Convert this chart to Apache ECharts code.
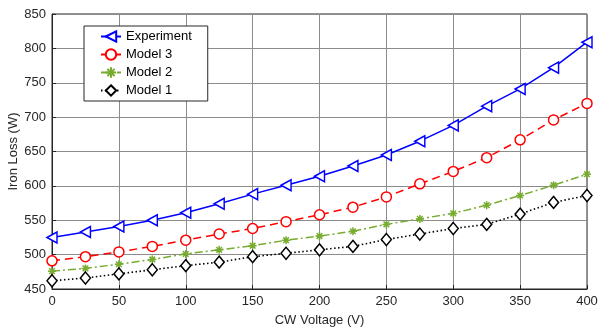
<!DOCTYPE html>
<html>
<head>
<meta charset="utf-8">
<script src="https://cdn.jsdelivr.net/npm/echarts@6/dist/echarts.min.js"></script>
<style>
  html, body { margin: 0; padding: 0; background: #fff; }
  #chart { width: 598px; height: 328px; }
</style>
</head>
<body>
<div id="chart"></div>
<script>
// CW voltage sweep (V)
const voltage = [0, 25, 50, 75, 100, 125, 150, 175, 200, 225, 250, 275, 300, 325, 350, 375, 400];

// Iron loss (W) for measurement and the three models
const experiment = [525, 533, 541, 550, 561, 574, 588, 601, 614, 629, 645, 665, 688, 716, 741, 772, 809];
const model3 = [491, 497, 504, 512, 521, 530, 538, 548, 558, 569, 584, 603, 621, 641, 667, 696, 720];
const model2 = [476, 480, 486, 493, 501, 507, 513, 521, 527, 534, 544, 552, 560, 572, 586, 601, 617];
const model1 = [462, 466, 472, 478, 484, 489, 497, 502, 507, 512, 522, 530, 538, 544, 559, 576, 586];

const xTicks = { min: 0, max: 400, step: 50 };
const yTicks = { min: 450, max: 850, step: 50 };

const FONT = '"Liberation Sans", Arial, sans-serif';
const TXT = '#262626';

const triLeft = 'path://M0,5 L10,0 L10,10 Z';
const asterisk = 'path://M0,5 L10,5 M5,0 L5,10 M1.5,1.5 L8.5,8.5 M1.5,8.5 L8.5,1.5';
const diamond = 'path://M5,0 L10,5 L5,10 L0,5 Z';

function pairs(ys) { return voltage.map((v, i) => [v, ys[i]]); }

function lineSeries(name, ys, color, lineType, symbol, size) {
  return {
    name: name,
    type: 'line',
    data: pairs(ys),
    symbol: symbol,
    symbolSize: size,
    showAllSymbol: true,
    lineStyle: { color: color, width: name === 'Model 1' ? 1.6 : 1.5, type: lineType },
    itemStyle: { color: '#ffffff', borderColor: color, borderWidth: 1.5 },
    emphasis: { disabled: true },
    animation: false,
    z: 3
  };
}

const chart = echarts.init(document.getElementById('chart'), null, { renderer: 'canvas' });

chart.setOption({
  animation: false,
  backgroundColor: '#ffffff',
  grid: {
    left: 52, right: 11, top: 14, bottom: 39,
    containLabel: false,
    outerBoundsMode: 'none',
    show: true, borderColor: '#262626', borderWidth: 1, backgroundColor: 'transparent'
  },
  legend: {
    left: 84, top: 26,
    orient: 'vertical',
    backgroundColor: '#ffffff',
    borderColor: '#262626',
    borderWidth: 1,
    padding: [4, 16, 4, 16],
    itemGap: 5,
    itemWidth: 20,
    itemHeight: 13,
    textStyle: { fontFamily: FONT, fontSize: 13, color: '#000' },
    data: ['Experiment', 'Model 3', 'Model 2', 'Model 1']
  },
  xAxis: {
    type: 'value',
    min: xTicks.min, max: xTicks.max, interval: xTicks.step,
    name: 'CW Voltage (V)',
    nameLocation: 'middle',
    nameGap: 25,
    nameMoveOverlap: false,
    nameTextStyle: { fontFamily: FONT, fontSize: 13, color: TXT },
    axisLine: { show: true, onZero: false, lineStyle: { color: '#262626' } },
    axisTick: { show: true, inside: true, length: 4, lineStyle: { color: '#262626' } },
    axisLabel: { fontFamily: FONT, fontSize: 13, color: TXT, margin: 6 },
    splitLine: { show: true, lineStyle: { color: '#8c8c8c', width: 1 } }
  },
  yAxis: {
    type: 'value',
    min: yTicks.min, max: yTicks.max, interval: yTicks.step,
    name: 'Iron Loss (W)',
    nameLocation: 'middle',
    nameGap: 32,
    nameMoveOverlap: false,
    nameRotate: 90,
    nameTextStyle: { fontFamily: FONT, fontSize: 13, color: TXT },
    axisLine: { show: true, lineStyle: { color: '#262626' } },
    axisTick: { show: true, inside: true, length: 4, lineStyle: { color: '#262626' } },
    axisLabel: { fontFamily: FONT, fontSize: 13, color: TXT, margin: 6 },
    splitLine: { show: true, lineStyle: { color: '#8c8c8c', width: 1 } }
  },
  series: [
    lineSeries('Experiment', experiment, '#0000ff', 'solid', triLeft, [10, 11]),
    lineSeries('Model 3', model3, '#ff0000', [8, 5], 'circle', 10),
    lineSeries('Model 2', model2, '#77ac30', [8, 3, 2, 3], asterisk, 8),
    lineSeries('Model 1', model1, '#000000', [1.5, 2.5], diamond, [10, 12])
  ]
});
</script>
</body>
</html>
